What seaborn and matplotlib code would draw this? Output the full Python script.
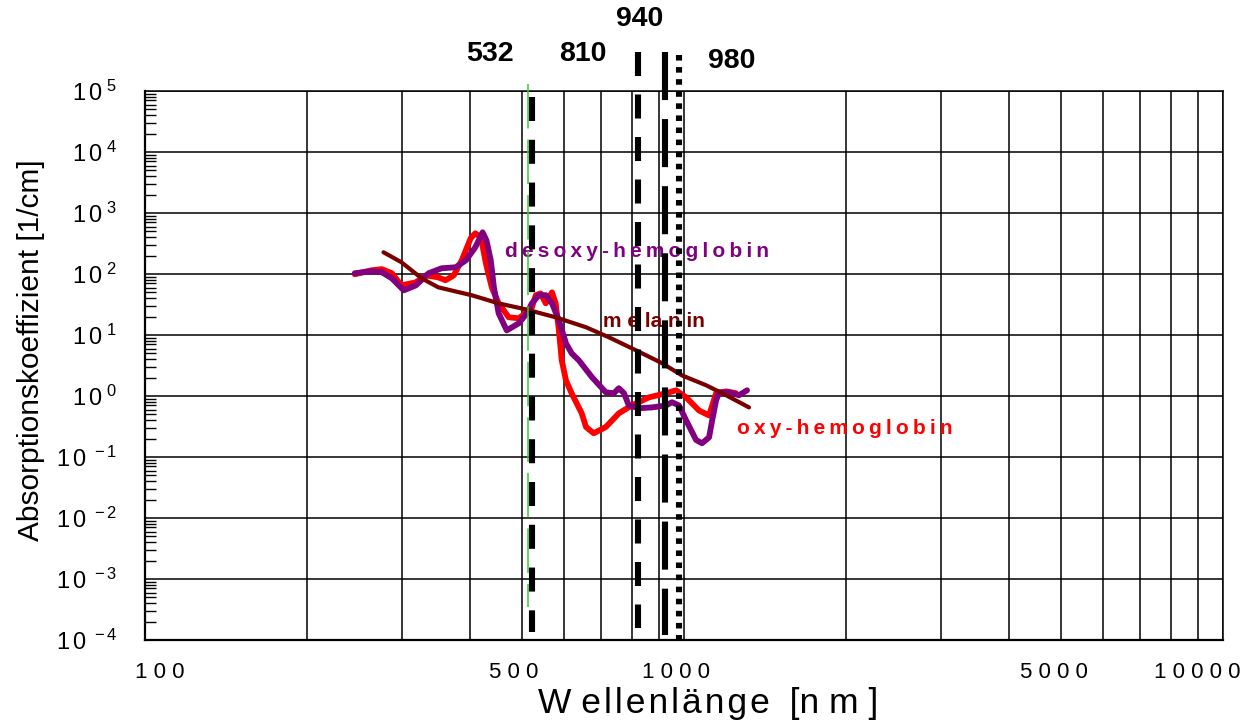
import matplotlib
matplotlib.use('Agg')
import matplotlib.pyplot as plt
import seaborn as sns
from matplotlib.ticker import FixedLocator, LogLocator, NullFormatter
from matplotlib.transforms import ScaledTranslation

sns.set_theme(style='white')
plt.rcParams['font.family'] = ['Liberation Sans', 'DejaVu Sans']
plt.rcParams['mathtext.fontset'] = 'custom'
plt.rcParams['mathtext.rm'] = 'Liberation Sans'
plt.rcParams['lines.scale_dashes'] = False

# oxy-hemoglobin, wavelength [nm] / absorption [1/cm]
oxy_nm = [245, 263, 275, 287, 299, 318, 332, 350, 361, 374, 387, 402, 410, 420,
          429, 440, 453, 473, 494, 508, 520, 531, 542, 554, 569, 578, 586, 593,
          604, 619, 646, 658, 680, 716, 757, 800, 861, 926, 967, 1009, 1066,
          1113, 1147, 1197, 1249]
oxy_mu = [99, 115, 120, 103, 65, 73, 95, 88, 79, 95, 168, 385, 465, 399,
          150, 60, 33, 19.5, 18.8, 22.7, 25.4, 45, 48, 33, 50, 33, 12, 3.9,
          1.8, 1.1, 0.52, 0.31, 0.245, 0.31, 0.52, 0.70, 0.95, 1.11, 1.24, 0.95,
          0.58, 0.48, 1.11, 1.19, 1.11]

# desoxy-hemoglobin
deoxy_nm = [245, 263, 275, 287, 302, 318, 336, 355, 377, 394, 410, 423, 430, 438,
            444, 453, 469, 494, 511, 522, 538, 554, 569, 586, 604, 619, 638, 675,
            716, 741, 757, 774, 790, 825, 872, 926, 950, 979, 1009, 1053, 1080,
            1113, 1128, 1147, 1162, 1212, 1265, 1309]
deoxy_mu = [103, 111, 107, 85, 54, 65, 103, 124, 129, 168, 274, 483, 357, 168,
            60, 22.7, 11.9, 15.6, 22.7, 33, 45, 45, 33, 17.4, 7.3, 5.0, 3.85, 2.03,
            1.15, 1.11, 1.34, 1.11, 0.70, 0.63, 0.65, 0.70, 0.79, 0.70, 0.40, 0.19,
            0.168, 0.21, 0.40, 0.85, 1.15, 1.15, 1.03, 1.24]

# melanin
mel_nm = [277, 299, 326, 350, 404, 453, 508, 578, 658, 725, 815, 911, 991, 1099,
          1197, 1320]
mel_mu = [227, 156, 85, 60.5, 44.8, 33, 26.4, 19.5, 13.4, 9.2, 5.6, 3.44, 2.18,
          1.50, 1.03, 0.65]

# laser lines (label, drawn position)
laser_labels = ['532', '810', '940', '980']
laser_nm = [522, 823, 921, 977]
green_nm = 513

x_ticks = [100, 500, 1000, 5000, 10000]
x_tick_labels = ['1 0 0', '5 0 0', '1 0 0 0', '5 0 0 0', '1 0 0 0 0']
y_exponents = [-4, -3, -2, -1, 0, 1, 2, 3, 4, 5]


def spaced(text, gap='\u2009'):
    return gap.join(text)


fig = plt.figure(figsize=(12.41, 7.22), dpi=100)
W, H = 1241, 722
ax = fig.add_axes([145 / W, (H - 640) / H, (1223 - 145) / W, (640 - 91) / H])
ax.set_xscale('log')
ax.set_yscale('log')
ax.set_xlim(100, 10000)
ax.set_ylim(1e-4, 1e5)

# grid: every x subdivision, only decades in y
ax.xaxis.set_major_locator(FixedLocator(x_ticks))
ax.xaxis.set_minor_locator(LogLocator(base=10, subs=range(1, 10), numticks=50))
ax.xaxis.set_minor_formatter(NullFormatter())
ax.set_xticklabels(x_tick_labels)
ax.yaxis.set_major_locator(FixedLocator([10.0 ** e for e in y_exponents]))
ax.yaxis.set_minor_locator(LogLocator(base=10, subs=range(2, 10), numticks=50))
ax.yaxis.set_minor_formatter(NullFormatter())
ax.set_yticklabels([r'$\mathregular{1\,0^{\;%d}}$' % e for e in y_exponents])

ax.grid(which='both', axis='x', color='black', lw=1.1)
ax.grid(which='major', axis='y', color='black', lw=1.1)
ax.tick_params(axis='x', which='both', length=0, labelsize=16, pad=16,
               colors='black')
ax.tick_params(axis='y', which='major', direction='in', length=11, width=1.5,
               labelsize=17, pad=20, colors='black')
ax.tick_params(axis='y', which='minor', direction='in', length=8, width=1,
               colors='black', left=True)
for side in ['left', 'bottom']:
    ax.spines[side].set_linewidth(1.6)
for side in ['top', 'right']:
    ax.spines[side].set_linewidth(1.1)
for s in ax.spines.values():
    s.set_color('black')

shift_px = [15, -8, -8, -7, -26]
for lab, dx in zip(ax.get_xticklabels(), shift_px):
    lab.set_transform(lab.get_transform() +
                      ScaledTranslation(dx / 100, 0, fig.dpi_scale_trans))

sns.lineplot(x=oxy_nm, y=oxy_mu, sort=False, estimator=None, color='#ff0000',
             lw=4.2, ax=ax, zorder=3, solid_capstyle='round')
sns.lineplot(x=deoxy_nm, y=deoxy_mu, sort=False, estimator=None, color='#800080',
             lw=4.2, ax=ax, zorder=3.1, solid_capstyle='round')
sns.lineplot(x=mel_nm, y=mel_mu, sort=False, estimator=None, color='#7a0000',
             lw=3.0, ax=ax, zorder=3.2, solid_capstyle='round')

# laser marker lines
ax.plot([green_nm, green_nm], [1.29e5, 3.5e-4], color='#33cc33', lw=1.1,
        dashes=(32, 8), clip_on=False, zorder=4)
line_specs = [
    ((7.9e4, 1.34e-4), (17.3, 13.5)),
    ((4.3e5, 1.56e-4), (17.3, 13.3)),
    ((4.3e5, 1.2e-4), (34.6, 13.7)),
    ((3.84e5, 8.2e-5), (4.0, 4.7)),
]
for nm, (yr, dash) in zip(laser_nm, line_specs):
    ax.plot([nm, nm], list(yr), color='black', lw=4.4, dashes=dash,
            clip_on=False, zorder=5)

label_offsets = [(-42, 37), (-56, 37), (-25, 72), (53, 30)]
for nm, txt, off in zip(laser_nm, laser_labels, label_offsets):
    ax.annotate(txt, xy=(nm, 1), xycoords=('data', 'axes fraction'),
                xytext=off, textcoords='offset pixels', ha='center',
                va='center', fontsize=20.5, fontweight='bold', color='black',
                annotation_clip=False)

ax.text(818, 235, spaced('desoxy-hemoglobin'), color='#800080',
        fontsize=15, fontweight='bold', ha='center', va='center', zorder=2)
ax.text(880, 16.8, 'm e la n in', color='#7a0000', fontsize=15,
        fontweight='bold', ha='center', va='center', zorder=2)
ax.text(1983, 0.295, spaced('oxy-hemoglobin'), color='#ff0000',
        fontsize=15, fontweight='bold', ha='center', va='center', zorder=2)

ax.set_xlabel('W ' + spaced('ellenlänge', '\u200a') + '  [n m ]', fontsize=25.5,
              color='black')
ax.xaxis.set_label_coords((708 - 145) / 1078, (640 - 687) / 549)
ax.set_ylabel('Absorptionskoeffizient [1/cm]', fontsize=21.5, color='black')
ax.yaxis.set_label_coords((45 - 145) / 1078, (640 - 350) / 549)

fig.savefig('out.png', dpi=100)
